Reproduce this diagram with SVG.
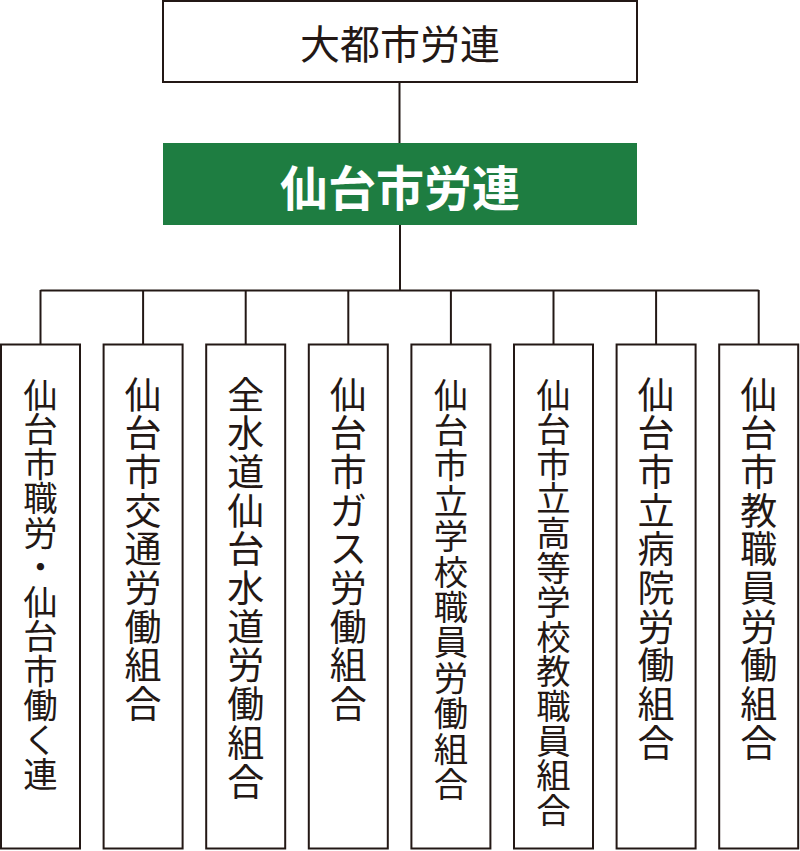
<svg xmlns="http://www.w3.org/2000/svg" width="800" height="851" viewBox="0 0 800 851">
<style>
.box{fill:#fff;stroke:#231815;stroke-width:2}
.ln{stroke:#231815;stroke-width:2;fill:none}
.t{font-family:"Noto Sans CJK JP","Noto Sans CJK SC",sans-serif;fill:#231815;text-anchor:middle;dominant-baseline:central}
.v{font-size:37px}
.s{font-size:34.4px}
</style>
<rect width="800" height="851" fill="#fff"/>
<g id="connectors">
<line class="ln" x1="399.5" y1="82" x2="399.5" y2="143"/>
<line class="ln" x1="400" y1="225" x2="400" y2="291"/>
<line class="ln" x1="40.5" y1="290.5" x2="758.7" y2="290.5"/>
<line class="ln" x1="40.5" y1="290" x2="40.5" y2="344"/>
<line class="ln" x1="143.1" y1="290" x2="143.1" y2="344"/>
<line class="ln" x1="245.7" y1="290" x2="245.7" y2="344"/>
<line class="ln" x1="348.3" y1="290" x2="348.3" y2="344"/>
<line class="ln" x1="450.9" y1="290" x2="450.9" y2="344"/>
<line class="ln" x1="553.5" y1="290" x2="553.5" y2="344"/>
<line class="ln" x1="656.1" y1="290" x2="656.1" y2="344"/>
<line class="ln" x1="758.7" y1="290" x2="758.7" y2="344"/>
</g>
<g id="n-top">
<rect class="box" x="163" y="1" width="474" height="81"/>
<text class="t" x="400" y="42" font-size="40">大都市労連</text>
</g>
<g id="n-sendai">
<rect x="163" y="143" width="474" height="82" fill="#1e7d41"/>
<text class="t" x="400" y="185" font-size="48" font-weight="bold" style="fill:#fff">仙台市労連</text>
</g>
<g id="n1">
<rect class="box" x="1" y="344.5" width="79" height="504"/>
<text class="t s"><tspan x="40.5" y="392.5">仙</tspan><tspan x="40.5" y="427">台</tspan><tspan x="40.5" y="461.5">市</tspan><tspan x="40.5" y="496">職</tspan><tspan x="40.5" y="530.5">労</tspan><tspan x="40.5" y="565">・</tspan><tspan x="40.5" y="599.5">仙</tspan><tspan x="40.5" y="634">台</tspan><tspan x="40.5" y="668.5">市</tspan><tspan x="40.5" y="703">働</tspan><tspan x="40.5" y="737.5">く</tspan><tspan x="40.5" y="772">連</tspan></text>
</g>
<g id="n2">
<rect class="box" x="103.6" y="344.5" width="79" height="504"/>
<text class="t v"><tspan x="143.1" y="392.5">仙</tspan><tspan x="143.1" y="431.2">台</tspan><tspan x="143.1" y="469.9">市</tspan><tspan x="143.1" y="508.6">交</tspan><tspan x="143.1" y="547.3">通</tspan><tspan x="143.1" y="586">労</tspan><tspan x="143.1" y="624.7">働</tspan><tspan x="143.1" y="663.4">組</tspan><tspan x="143.1" y="702.1">合</tspan></text>
</g>
<g id="n3">
<rect class="box" x="206.2" y="344.5" width="79" height="504"/>
<text class="t v"><tspan x="245.7" y="392.5">全</tspan><tspan x="245.7" y="431.2">水</tspan><tspan x="245.7" y="469.9">道</tspan><tspan x="245.7" y="508.6">仙</tspan><tspan x="245.7" y="547.3">台</tspan><tspan x="245.7" y="586">水</tspan><tspan x="245.7" y="624.7">道</tspan><tspan x="245.7" y="663.4">労</tspan><tspan x="245.7" y="702.1">働</tspan><tspan x="245.7" y="740.8">組</tspan><tspan x="245.7" y="779.5">合</tspan></text>
</g>
<g id="n4">
<rect class="box" x="308.8" y="344.5" width="79" height="504"/>
<text class="t v"><tspan x="348.3" y="392.5">仙</tspan><tspan x="348.3" y="431.2">台</tspan><tspan x="348.3" y="469.9">市</tspan><tspan x="348.3" y="508.6">ガ</tspan><tspan x="348.3" y="547.3">ス</tspan><tspan x="348.3" y="586">労</tspan><tspan x="348.3" y="624.7">働</tspan><tspan x="348.3" y="663.4">組</tspan><tspan x="348.3" y="702.1">合</tspan></text>
</g>
<g id="n5">
<rect class="box" x="411.4" y="344.5" width="79" height="504"/>
<text class="t s"><tspan x="450.9" y="392.5">仙</tspan><tspan x="450.9" y="427.9">台</tspan><tspan x="450.9" y="463.3">市</tspan><tspan x="450.9" y="498.7">立</tspan><tspan x="450.9" y="534.1">学</tspan><tspan x="450.9" y="569.5">校</tspan><tspan x="450.9" y="604.9">職</tspan><tspan x="450.9" y="640.3">員</tspan><tspan x="450.9" y="675.7">労</tspan><tspan x="450.9" y="711.1">働</tspan><tspan x="450.9" y="746.5">組</tspan><tspan x="450.9" y="781.9">合</tspan></text>
</g>
<g id="n6">
<rect class="box" x="514" y="344.5" width="79" height="504"/>
<text class="t s"><tspan x="553.5" y="392.5">仙</tspan><tspan x="553.5" y="427.1">台</tspan><tspan x="553.5" y="461.7">市</tspan><tspan x="553.5" y="496.3">立</tspan><tspan x="553.5" y="530.9">高</tspan><tspan x="553.5" y="565.5">等</tspan><tspan x="553.5" y="600.1">学</tspan><tspan x="553.5" y="634.7">校</tspan><tspan x="553.5" y="669.3">教</tspan><tspan x="553.5" y="703.9">職</tspan><tspan x="553.5" y="738.5">員</tspan><tspan x="553.5" y="773.1">組</tspan><tspan x="553.5" y="807.7">合</tspan></text>
</g>
<g id="n7">
<rect class="box" x="616.6" y="344.5" width="79" height="504"/>
<text class="t v"><tspan x="656.1" y="392.5">仙</tspan><tspan x="656.1" y="431.2">台</tspan><tspan x="656.1" y="469.9">市</tspan><tspan x="656.1" y="508.6">立</tspan><tspan x="656.1" y="547.3">病</tspan><tspan x="656.1" y="586">院</tspan><tspan x="656.1" y="624.7">労</tspan><tspan x="656.1" y="663.4">働</tspan><tspan x="656.1" y="702.1">組</tspan><tspan x="656.1" y="740.8">合</tspan></text>
</g>
<g id="n8">
<rect class="box" x="719.2" y="344.5" width="79" height="504"/>
<text class="t v"><tspan x="758.7" y="392.5">仙</tspan><tspan x="758.7" y="431.2">台</tspan><tspan x="758.7" y="469.9">市</tspan><tspan x="758.7" y="508.6">教</tspan><tspan x="758.7" y="547.3">職</tspan><tspan x="758.7" y="586">員</tspan><tspan x="758.7" y="624.7">労</tspan><tspan x="758.7" y="663.4">働</tspan><tspan x="758.7" y="702.1">組</tspan><tspan x="758.7" y="740.8">合</tspan></text>
</g>
</svg>
